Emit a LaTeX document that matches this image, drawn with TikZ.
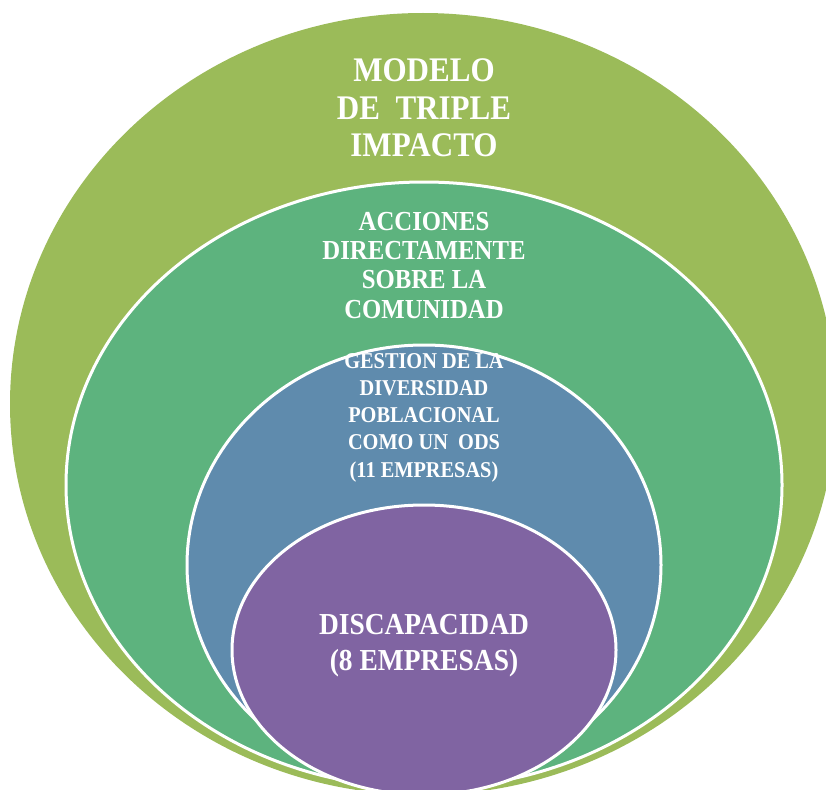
\documentclass[tikz,border=0pt]{standalone}
\usepackage{fontspec}
\setmainfont{Liberation Serif}
\newfontfamily\ringfont[FakeStretch=0.9]{Liberation Serif}
\definecolor{impacto}{HTML}{9BBB59}
\definecolor{acciones}{HTML}{5DB37E}
\definecolor{gestion}{HTML}{5F8BAD}
\definecolor{discap}{HTML}{8064A2}
\begin{document}
\begin{tikzpicture}[x=1pt,y=-1pt,
  ring/.style={draw=white,line width=3pt},
  ringtext/.style={text=white,align=center,inner sep=0pt,anchor=base}]
\useasboundingbox (0,0) rectangle (826,789);
\clip (0,0) rectangle (826,789);
% nested ellipses, outer first
\fill[impacto] (423,404) ellipse [x radius=413,y radius=391];
\filldraw[ring,fill=acciones] (424,485) ellipse [x radius=358,y radius=303];
\filldraw[ring,fill=gestion] (424,565) ellipse [x radius=237,y radius=220];
\filldraw[ring,fill=discap] (424,650) ellipse [x radius=192,y radius=145];
% texts (anchor base = last line)
\node[ringtext,font=\ringfont\fontsize{34.5}{37}\selectfont\bfseries] (modelo) at (424,156)
  {MODELO\\DE~~TRIPLE\\IMPACTO};
\node[ringtext,font=\ringfont\fontsize{27.5}{29.3}\selectfont\bfseries] (acc) at (424,318)
  {ACCIONES\\DIRECTAMENTE\\SOBRE LA\\COMUNIDAD};
\node[ringtext,font=\ringfont\fontsize{22.6}{27.2}\selectfont\bfseries] (gest) at (424,477)
  {GESTION DE LA\\DIVERSIDAD\\POBLACIONAL\\COMO UN~~ODS\\(11 EMPRESAS)};
\node[ringtext,font=\ringfont\fontsize{30.5}{36}\selectfont\bfseries] (disc) at (424,670)
  {DISCAPACIDAD\\(8 EMPRESAS)};
\end{tikzpicture}
\end{document}
